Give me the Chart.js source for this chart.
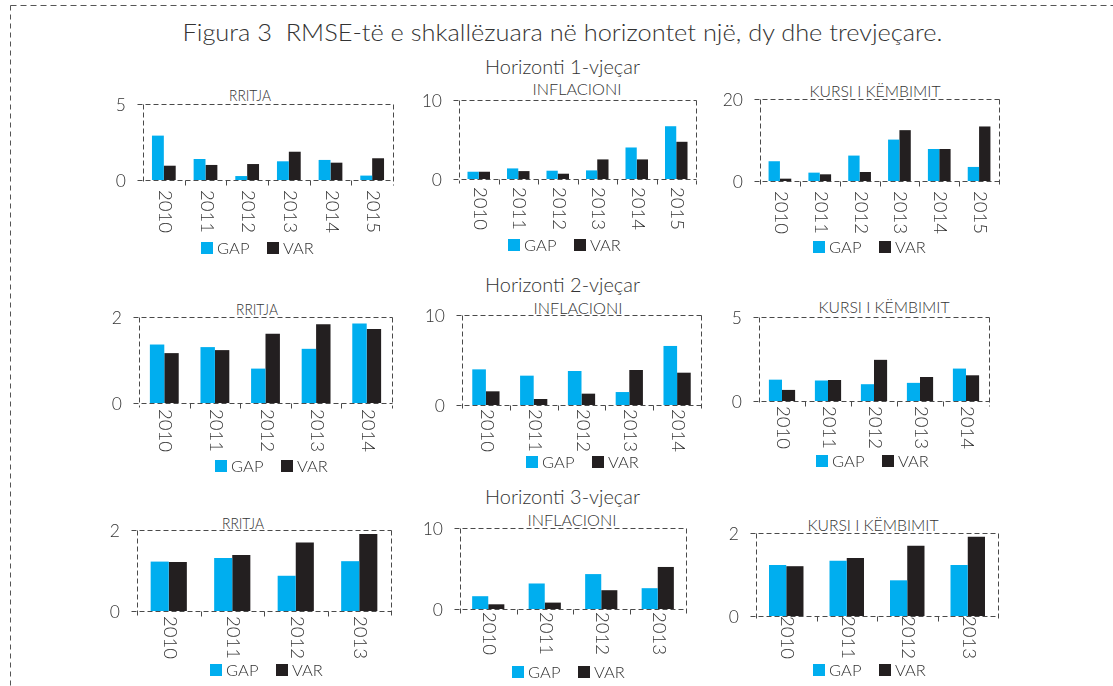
<!DOCTYPE html>
<html>
<head>
<meta charset="utf-8">
<script src="https://cdn.jsdelivr.net/npm/chart.js@4.4.1/dist/chart.umd.min.js"></script>
<style>
  html, body { margin: 0; padding: 0; background: #fff; }
  #page { position: relative; width: 1113px; height: 686px; overflow: hidden; }
  #frame { position: absolute; left: 0; top: 0; }
  canvas.layer { position: absolute; left: 0; top: 0; }
  #frame text { font-family: Lato, "Liberation Sans", Arial, sans-serif; font-weight: 300; fill: #333; white-space: pre; }
</style>
</head>
<body>
<div id="page">
  <svg id="frame" width="1113" height="686" xmlns="http://www.w3.org/2000/svg">
    <line x1="10.5" y1="5.5" x2="1113" y2="5.5" stroke="#555" stroke-width="1" stroke-dasharray="6 4"/>
    <line x1="10.5" y1="5.5" x2="10.5" y2="686" stroke="#555" stroke-width="1" stroke-dasharray="5 4"/>
  </svg>
</div>
<script>
// ---- categories and labels ----
const years1 = ['2010', '2011', '2012', '2013', '2014', '2015'];
const years2 = ['2010', '2011', '2012', '2013', '2014'];
const years3 = ['2010', '2011', '2012', '2013'];
const seriesNames = ['GAP', 'VAR'];
const mainTitle = 'Figura 3  RMSE-të e shkallëzuara në horizontet një, dy dhe trevjeçare.';
const horizonTitles = ['Horizonti 1-vjeçar', 'Horizonti 2-vjeçar', 'Horizonti 3-vjeçar'];
const variableTitles = ['RRITJA', 'INFLACIONI', 'KURSI I KËMBIMIT'];

// ---- y-axis tick values (0 and the top of each panel) ----
const yTicksH1 = [[0, 5], [0, 10], [0, 20]];
const yTicksH2 = [[0, 2], [0, 10], [0, 5]];
const yTicksH3 = [[0, 2], [0, 10], [0, 2]];

// ---- one-year horizon ----
const gapRritjaH1 = [2.92, 1.38, 0.26, 1.23, 1.32, 0.29];
const varRritjaH1 = [0.94, 0.99, 1.05, 1.86, 1.14, 1.43];
const gapInflH1   = [0.92, 1.34, 1.05, 1.09, 3.99, 6.68];
const varInflH1   = [0.92, 1.00, 0.67, 2.48, 2.48, 4.71];
const gapKursiH1  = [4.82, 2.04, 6.20, 10.1, 7.80, 3.43];
const varKursiH1  = [0.57, 1.63, 2.20, 12.4, 7.80, 13.3];

// ---- two-year horizon ----
const gapRritjaH2 = [1.36, 1.30, 0.80, 1.26, 1.85];
const varRritjaH2 = [1.16, 1.23, 1.61, 1.83, 1.72];
const gapInflH2   = [3.96, 3.26, 3.78, 1.44, 6.56];
const varInflH2   = [1.52, 0.67, 1.26, 3.89, 3.59];
const gapKursiH2  = [1.27, 1.22, 1.00, 1.08, 1.93];
const varKursiH2  = [0.66, 1.25, 2.45, 1.43, 1.53];

// ---- three-year horizon ----
const gapRritjaH3 = [1.22, 1.31, 0.87, 1.23];
const varRritjaH3 = [1.21, 1.38, 1.69, 1.90];
const gapInflH3   = [1.58, 3.15, 4.31, 2.57];
const varInflH3   = [0.58, 0.79, 2.32, 5.19];
const gapKursiH3  = [1.23, 1.33, 0.86, 1.23];
const varKursiH3  = [1.20, 1.40, 1.69, 1.91];

const COLORS = { gap: '#00AEEF', var: '#231F20', axis: '#4a4a4a', text: '#333333' };
const FONT = 'Lato, "Liberation Sans", Arial, sans-serif';
const W = 1113, H = 686;

// panel placement: plot box [left, top, right, bottom], gap under the axis
// for the year labels, legend origin, heading centre/baseline/width
const panels = [
  { cats: years1, gap: gapRritjaH1, vr: varRritjaH1, ticks: yTicksH1[0], title: variableTitles[0],
    box: [143, 104, 393, 180], lab: 10, leg: [201, 242], head: [250, 100.5, 42] },
  { cats: years1, gap: gapInflH1, vr: varInflH1, ticks: yTicksH1[1], title: variableTitles[1],
    box: [459, 100, 696, 179], lab: 8, leg: [508, 239], head: [577, 95, 89] },
  { cats: years1, gap: gapKursiH1, vr: varKursiH1, ticks: yTicksH1[2], title: variableTitles[2],
    box: [760, 99, 999, 181], lab: 10, leg: [813, 241], head: [875, 96.5, 131] },
  { cats: years2, gap: gapRritjaH2, vr: varRritjaH2, ticks: yTicksH2[0], title: variableTitles[0],
    box: [139, 317, 392, 403], lab: 6, leg: [215, 460], head: [257, 315, 42] },
  { cats: years2, gap: gapInflH2, vr: varInflH2, ticks: yTicksH2[1], title: variableTitles[1],
    box: [462, 315, 701, 405], lab: 4, leg: [526, 456], head: [578, 314, 89] },
  { cats: years2, gap: gapKursiH2, vr: varKursiH2, ticks: yTicksH2[2], title: variableTitles[2],
    box: [759, 317, 989, 401], lab: 5, leg: [816, 455], head: [884, 313, 131] },
  { cats: years3, gap: gapRritjaH3, vr: varRritjaH3, ticks: yTicksH3[0], title: variableTitles[0],
    box: [137, 530, 391, 611], lab: 5, leg: [210, 664], head: [243, 529, 42] },
  { cats: years3, gap: gapInflH3, vr: varInflH3, ticks: yTicksH3[1], title: variableTitles[1],
    box: [460, 528, 686, 609], lab: 3, leg: [512, 666], head: [572, 526, 89] },
  { cats: years3, gap: gapKursiH3, vr: varKursiH3, ticks: yTicksH3[2], title: variableTitles[2],
    box: [756, 533, 998, 616], lab: 0, leg: [813, 664], head: [873, 531, 131] }
];

const svg = document.getElementById('frame');

// centred text on a baseline, fitted to a given width
function addText(str, cx, baseline, size, width) {
  const t = document.createElementNS('http://www.w3.org/2000/svg', 'text');
  t.setAttribute('x', cx);
  t.setAttribute('y', baseline);
  t.setAttribute('text-anchor', 'middle');
  t.setAttribute('font-size', size);
  t.setAttributeNS('http://www.w3.org/XML/1998/namespace', 'xml:space', 'preserve');
  if (width) {
    t.setAttribute('textLength', width);
    t.setAttribute('lengthAdjust', 'spacingAndGlyphs');
  }
  t.textContent = str;
  svg.appendChild(t);
}

addText(mainTitle, 562.5, 41, 24.4, 760);
addText(horizonTitles[0], 562.5, 74, 19.5, 155);
addText(horizonTitles[1], 562.5, 292, 19.5, 155);
addText(horizonTitles[2], 562.5, 504, 19.5, 155);
panels.forEach(p => addText(p.title, p.head[0], p.head[1], 15.5, p.head[2]));

// dashed frame, ticks, year labels and legend around each plot area
const panelDecor = {
  id: 'panelDecor',
  afterDatasetsDraw(chart, args, opts) {
    const ctx = chart.ctx;
    const xs = chart.scales.x, ys = chart.scales.y;
    const a = chart.chartArea;
    const yMaxPx = ys.getPixelForValue(opts.ticks[1]);
    const y0 = ys.getPixelForValue(0);
    const L = Math.round(a.left) + 0.5, R = Math.round(a.right) + 0.5;
    const T = Math.round(yMaxPx) + 0.5, B = Math.round(y0) + 0.5;
    ctx.save();
    ctx.strokeStyle = COLORS.axis;
    ctx.lineWidth = 1;
    ctx.setLineDash([5, 3]);
    const seg = (x1, y1, x2, y2) => { ctx.beginPath(); ctx.moveTo(x1, y1); ctx.lineTo(x2, y2); ctx.stroke(); };
    seg(L - 6, T, R, T);          // top edge (starts with the max tick)
    seg(L, T, L, B + 4);          // value axis
    seg(R, T, R, B + 5);          // right edge
    seg(L - 6, B, R, B);          // category axis (starts with the zero tick)
    ctx.setLineDash([]);
    // short marks between categories
    const n = opts.cats.length;
    const step = (xs.getPixelForValue(n - 1) - xs.getPixelForValue(0)) / Math.max(1, n - 1);
    for (let i = 1; i < n; i++) {
      const bx = Math.round(xs.getPixelForValue(i) - step / 2) + 0.5;
      seg(bx, B, bx, B + 5);
    }
    // value tick labels
    ctx.fillStyle = COLORS.text;
    ctx.font = '300 17.5px ' + FONT;
    ctx.textAlign = 'right';
    ctx.textBaseline = 'middle';
    opts.ticks.forEach(v => ctx.fillText(String(v), a.left - 17, ys.getPixelForValue(v) + 1));
    // year labels, turned a quarter clockwise
    ctx.font = '300 18.5px ' + FONT;
    ctx.textAlign = 'left';
    opts.cats.forEach((c, i) => {
      ctx.save();
      ctx.translate(xs.getPixelForValue(i) + 1, y0 + opts.lab);
      ctx.rotate(Math.PI / 2);
      ctx.fillText(c, 0, 0);
      ctx.restore();
    });
    // legend
    const [lx, ly] = opts.leg;
    ctx.font = '300 16.5px ' + FONT;
    ctx.textBaseline = 'alphabetic';
    const ds = chart.data.datasets;
    const offsets = [0, 66];
    ds.forEach((d, k) => {
      const x = lx + offsets[k];
      ctx.fillStyle = d.backgroundColor;
      ctx.fillRect(x, ly, 12, 12);
      ctx.fillStyle = COLORS.text;
      ctx.fillText(d.label, x + 16, ly + 12);
    });
    ctx.restore();
  }
};

panels.forEach(p => {
  const cv = document.createElement('canvas');
  cv.className = 'layer';
  cv.width = W; cv.height = H;
  cv.style.width = W + 'px'; cv.style.height = H + 'px';
  document.getElementById('page').appendChild(cv);
  const [l, t, r, b] = p.box;
  new Chart(cv, {
    type: 'bar',
    data: {
      labels: p.cats,
      datasets: [
        { label: seriesNames[0], data: p.gap, backgroundColor: COLORS.gap },
        { label: seriesNames[1], data: p.vr, backgroundColor: COLORS.var }
      ]
    },
    options: {
      responsive: false,
      animation: false,
      devicePixelRatio: 1,
      events: [],
      layout: { padding: { left: l, top: t, right: W - r, bottom: H - b } },
      datasets: { bar: { categoryPercentage: 0.57, barPercentage: 1, borderWidth: 0 } },
      scales: {
        x: { display: false, offset: true },
        y: { display: false, min: p.ticks[0], max: p.ticks[1] }
      },
      plugins: {
        legend: { display: false },
        tooltip: { enabled: false },
        panelDecor: { cats: p.cats, ticks: p.ticks, lab: p.lab, leg: p.leg }
      }
    },
    plugins: [panelDecor]
  });
});
</script>
</body>
</html>
